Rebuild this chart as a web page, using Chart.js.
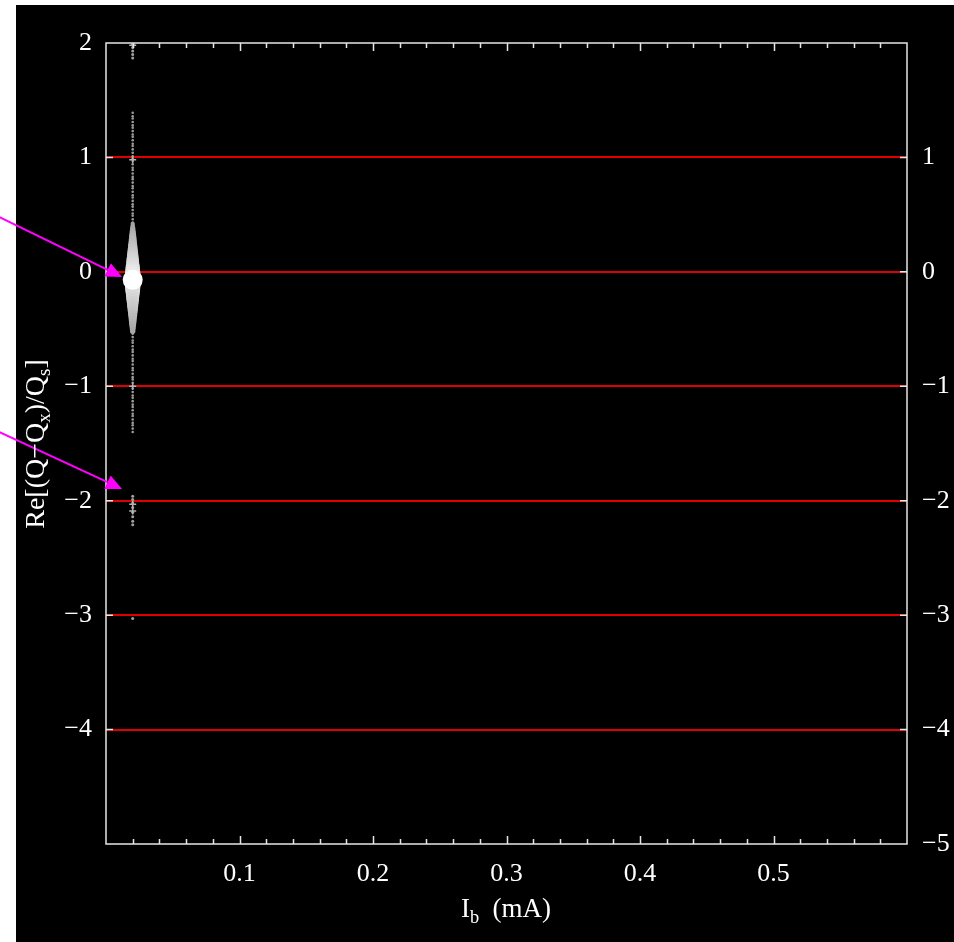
<!DOCTYPE html>
<html>
<head>
<meta charset="utf-8">
<script src="https://cdn.jsdelivr.net/npm/chart.js@4.4.1/dist/chart.umd.min.js"></script>
<style>
  html, body { margin: 0; padding: 0; background: #fff; }
  canvas { display: block; }
</style>
</head>
<body>
<canvas id="myChart" width="954" height="942"></canvas>
<script>
// beam current where the tune scan was taken (mA)
const beamCurrent = 0.02;

// Re[(Q-Qx)/Qs] readings, grouped by how they look in the picture
const topY = [1.99, 1.96, 1.93, 1.90, 1.87];
const upperTraceY = [1.39, 1.36, 1.34, 1.31, 1.28, 1.26, 1.23, 1.20, 1.18, 1.15, 1.12, 1.10, 1.07, 1.04,
    1.01, 0.99, 0.97, 0.94, 0.91, 0.89, 0.86, 0.83, 0.81, 0.78, 0.75, 0.73, 0.70, 0.67, 0.65,
    0.62, 0.59, 0.57, 0.54, 0.51, 0.49, 0.46, 0.43];
const bandY = [0.42, 0.40, 0.38, 0.36, 0.34, 0.32, 0.30, 0.28, 0.26, 0.24, 0.22, 0.20, 0.18, 0.16,
    0.14, 0.12, 0.10, 0.08, 0.06, 0.04, 0.02, 0.00, -0.02, -0.04, -0.10, -0.12, -0.14, -0.16,
    -0.18, -0.20, -0.22, -0.24, -0.26, -0.28, -0.30, -0.32, -0.34, -0.36, -0.38, -0.40, -0.42,
    -0.44, -0.46, -0.48, -0.50, -0.52];
const coreY = [-0.07];
const lowerTraceY = [-0.54, -0.57, -0.60, -0.62, -0.65, -0.68, -0.70, -0.73, -0.76, -0.78, -0.81,
    -0.84, -0.86, -0.89, -0.92, -0.94, -0.97, -1.00, -1.02, -1.05, -1.08, -1.10, -1.13, -1.16,
    -1.18, -1.21, -1.24, -1.26, -1.29, -1.32, -1.34, -1.37, -1.40];
const sidebandY = [-1.96, -1.99, -2.02, -2.06, -2.10, -2.14, -2.18, -2.21, -3.03];
const crossY = [1.98, 0.98, -1.00, -2.03, -2.09];

// tick labels shown on each axis
const xTickLabels = ['0.1', '0.2', '0.3', '0.4', '0.5'];
const leftTickLabels = [2, 1, 0, -1, -2, -3, -4];
const rightTickLabels = [1, 0, -1, -2, -3, -4, -5];
const redLines = [1, 0, -1, -2, -3, -4];

// annotation arrows, in data units
const arrows = [
    { from: [-0.08, 0.48], to: [0.012, -0.044] },
    { from: [-0.08, -1.40], to: [0.012, -1.897] }
];

const serif = "'Liberation Serif', 'DejaVu Serif', serif";

function pts(ys) {
    return ys.map(y => ({ x: beamCurrent, y: y }));
}

function minusSign(v) {
    return v < 0 ? '\u2212' + Math.abs(v) : String(v);
}

function bandRadius(ctx) {
    const d = Math.abs(ctx.raw.y - coreY[0]);
    return Math.max(1.4, 8.5 - 13 * d);
}

function bandColor(ctx) {
    const d = Math.abs(ctx.raw.y - coreY[0]);
    const g = Math.round(Math.max(160, 240 - 160 * d));
    return 'rgb(' + g + ',' + g + ',' + g + ')';
}

function drawRich(ctx, parts, size) {
    // parts: [text, isSubscript]
    let total = 0;
    for (let p of parts) {
        ctx.font = (p[1] ? size * 0.68 : size) + 'px ' + serif;
        total += ctx.measureText(p[0]).width;
    }
    let x = -total / 2;
    for (let p of parts) {
        ctx.font = (p[1] ? size * 0.68 : size) + 'px ' + serif;
        ctx.fillText(p[0], x, p[1] ? size * 0.22 : 0);
        x += ctx.measureText(p[0]).width;
    }
}

const framePlugin = {
    id: 'frame',
    beforeDraw(chart) {
        const c = chart.ctx;
        c.save();
        c.fillStyle = '#fff';
        c.fillRect(0, 0, chart.width, chart.height);
        c.fillStyle = '#000';
        c.fillRect(16, 5, chart.width - 16, chart.height - 5);
        c.restore();
    },
    afterDraw(chart) {
        const c = chart.ctx;
        const a = chart.chartArea;
        const xs = chart.scales.x;
        const ys = chart.scales.y;
        c.save();
        c.strokeStyle = '#e6e6e6';
        c.lineWidth = 1.5;
        // inward ticks on x (bottom and top)
        for (let i = 1; i < 30; i++) {
            const px = Math.round(xs.getPixelForValue(i * 0.02)) + 0.5;
            const len = i % 5 === 0 ? 8 : 5;
            c.beginPath();
            c.moveTo(px, a.bottom); c.lineTo(px, a.bottom - len);
            c.moveTo(px, a.top); c.lineTo(px, a.top + len);
            c.stroke();
        }
        // inward ticks on y (left and right)
        for (let v of redLines) {
            const py = ys.getPixelForValue(v);
            c.beginPath();
            c.moveTo(a.left, py); c.lineTo(a.left + 7, py);
            c.moveTo(a.right, py); c.lineTo(a.right - 7, py);
            c.stroke();
        }
        c.strokeRect(a.left, a.top, a.right - a.left, a.bottom - a.top);

        // arrows
        c.strokeStyle = '#ff00ff';
        c.fillStyle = '#ff00ff';
        c.lineWidth = 2;
        for (let ar of arrows) {
            const x0 = xs.getPixelForValue(ar.from[0]), y0 = ys.getPixelForValue(ar.from[1]);
            const x1 = xs.getPixelForValue(ar.to[0]), y1 = ys.getPixelForValue(ar.to[1]);
            const ang = Math.atan2(y1 - y0, x1 - x0);
            const hl = 16, hw = 7.5;
            const bx = x1 - hl * Math.cos(ang), by = y1 - hl * Math.sin(ang);
            c.beginPath();
            c.moveTo(x0, y0); c.lineTo(bx, by);
            c.stroke();
            c.beginPath();
            c.moveTo(x1, y1);
            c.lineTo(bx + hw * Math.sin(ang), by - hw * Math.cos(ang));
            c.lineTo(bx - hw * Math.sin(ang), by + hw * Math.cos(ang));
            c.closePath();
            c.fill();
        }

        // axis titles with subscripts
        c.fillStyle = '#fff';
        c.textBaseline = 'alphabetic';
        c.textAlign = 'left';
        c.save();
        c.translate(44, 444);
        c.rotate(-Math.PI / 2);
        drawRich(c, [['Re[(Q\u2212Q', false], ['x', true], [')/Q', false], ['s', true], [']', false]], 28);
        c.restore();
        c.save();
        c.translate(506, 917);
        drawRich(c, [['I', false], ['b', true], ['  (mA)', false]], 27);
        c.restore();
        c.restore();
    }
};

const data = {
    datasets: [
        { data: pts(coreY), pointRadius: 10, backgroundColor: '#fff', borderWidth: 0, order: 0 },
        { data: pts(bandY), pointRadius: bandRadius, backgroundColor: bandColor, borderWidth: 0, order: 1 },
        { data: pts(crossY), pointStyle: 'cross', pointRadius: 3.5, borderColor: '#b4b4b4', borderWidth: 1.5, order: 2 },
        { data: pts(topY), pointRadius: 1.5, backgroundColor: '#a0a0a0', borderWidth: 0, order: 3 },
        { data: pts(upperTraceY.concat(lowerTraceY)), pointRadius: 1.3, backgroundColor: '#9a9a9a', borderWidth: 0, order: 3 },
        { data: pts(sidebandY), pointRadius: 1.5, backgroundColor: '#a0a0a0', borderWidth: 0, order: 3 }
    ]
};

new Chart(document.getElementById('myChart'), {
    type: 'scatter',
    data: data,
    plugins: [framePlugin],
    options: {
        responsive: false,
        animation: false,
        devicePixelRatio: 1,
        layout: { padding: { top: 43, left: 0, right: 0, bottom: 0 } },
        plugins: { legend: { display: false }, tooltip: { enabled: false } },
        scales: {
            x: {
                type: 'linear', position: 'bottom', min: 0, max: 0.6,
                grid: { display: false },
                border: { display: false },
                ticks: {
                    stepSize: 0.1, color: '#fff', padding: 7, maxRotation: 0,
                    font: { family: serif, size: 26 },
                    callback: v => xTickLabels.includes(v.toFixed(1)) ? v.toFixed(1) : ''
                },
                afterFit: s => { s.height = 98; }
            },
            y: {
                type: 'linear', position: 'left', min: -5, max: 2,
                grid: {
                    drawTicks: false, lineWidth: 2,
                    color: c => redLines.includes(c.tick.value) ? '#e00000' : 'rgba(0,0,0,0)'
                },
                border: { display: false },
                ticks: {
                    stepSize: 1, color: '#fff', padding: 14,
                    font: { family: serif, size: 26 },
                    callback: v => leftTickLabels.includes(v) ? minusSign(v) : ''
                },
                afterFit: s => { s.width = 106; }
            },
            y2: {
                type: 'linear', position: 'right', min: -5, max: 2, display: true,
                grid: { display: false, drawTicks: false },
                border: { display: false },
                ticks: {
                    stepSize: 1, color: '#fff', padding: 15,
                    font: { family: serif, size: 26 },
                    callback: v => rightTickLabels.includes(v) ? minusSign(v) : ''
                },
                afterFit: s => { s.width = 47; }
            }
        }
    }
});
</script>
</body>
</html>
